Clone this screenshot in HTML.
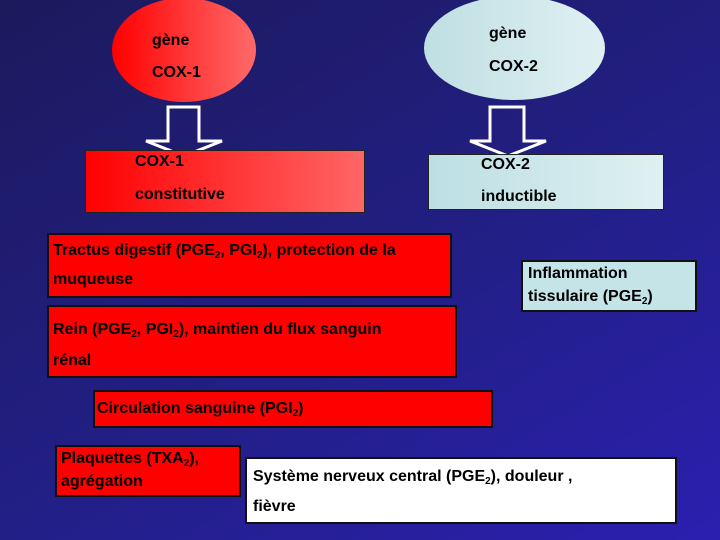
<!DOCTYPE html>
<html><head><meta charset="utf-8"><style>
body{margin:0}
#c{position:relative;width:720px;height:540px;overflow:hidden;background:linear-gradient(150deg,#1c1a5c 0%,#221f86 55%,#2b1fb0 100%);font-family:"Liberation Sans",Arial,sans-serif;font-weight:bold;font-size:16px;color:#000}
.a{position:absolute;box-sizing:border-box}
.r{background:#ff0000;border:2px solid #111}
.t{position:absolute;white-space:nowrap}
sub{font-size:10px;vertical-align:-3px;line-height:0}
</style></head><body><div id="c">
<div class="a" style="left:112px;top:-2px;width:144px;height:104px;border-radius:50%;background:linear-gradient(90deg,#f00,#ff6a6a)"></div>
<div class="t" style="left:152px;top:32px">gène</div>
<div class="t" style="left:152px;top:64px">COX-1</div>
<div class="a" style="left:424px;top:-4px;width:181px;height:104px;border-radius:50%;background:linear-gradient(90deg,#bfdfe3,#e0f0f2)"></div>
<div class="t" style="left:489px;top:25px">gène</div>
<div class="t" style="left:489px;top:58px">COX-2</div>
<svg class="a" style="left:0;top:0" width="720" height="540">
<polygon points="168,107 199,107 199,141 222,141 184,156 146,141 168,141" fill="none" stroke="#fff" stroke-width="3"/>
<polygon points="490,107 524,107 524,141 546,141 508,156 470,141 490,141" fill="none" stroke="#fff" stroke-width="3"/>
</svg>
<div class="a" style="left:85px;top:150px;width:280px;height:63px;background:linear-gradient(90deg,#f00,#ff6666);border:1px solid #222"></div>
<div class="t" style="left:135px;top:153px">COX-1</div>
<div class="t" style="left:135px;top:186px">constitutive</div>
<div class="a" style="left:428px;top:154px;width:236px;height:56px;background:linear-gradient(90deg,#bcdfe3,#dff0f2);border:1px solid #222"></div>
<div class="t" style="left:481px;top:156px">COX-2</div>
<div class="t" style="left:481px;top:188px">inductible</div>
<div class="a r" style="left:47px;top:233px;width:405px;height:65px"></div>
<div class="t" style="left:53px;top:242px">Tractus digestif (PGE<sub>2</sub>, PGI<sub>2</sub>), protection de la</div>
<div class="t" style="left:53px;top:271px">muqueuse</div>
<div class="a" style="left:521px;top:260px;width:176px;height:52px;background:#c4e4e8;border:2px solid #111"></div>
<div class="t" style="left:528px;top:265px">Inflammation</div>
<div class="t" style="left:528px;top:288px">tissulaire (PGE<sub>2</sub>)</div>
<div class="a r" style="left:47px;top:305px;width:410px;height:73px"></div>
<div class="t" style="left:53px;top:321px">Rein (PGE<sub>2</sub>, PGI<sub>2</sub>), maintien du flux sanguin</div>
<div class="t" style="left:53px;top:352px">rénal</div>
<div class="a r" style="left:93px;top:390px;width:400px;height:38px"></div>
<div class="t" style="left:97px;top:400px;font-size:16px">Circulation sanguine (PGI<sub>2</sub>)</div>
<div class="a r" style="left:55px;top:445px;width:186px;height:52px"></div>
<div class="t" style="left:61px;top:450px;font-size:16px">Plaquettes (TXA<sub>2</sub>),</div>
<div class="t" style="left:61px;top:473px;font-size:16px">agrégation</div>
<div class="a" style="left:245px;top:457px;width:432px;height:67px;background:#fff;border:2px solid #111"></div>
<div class="t" style="left:253px;top:468px">Système nerveux central (PGE<sub>2</sub>), douleur ,</div>
<div class="t" style="left:253px;top:498px">fièvre</div>
</div></body></html>
